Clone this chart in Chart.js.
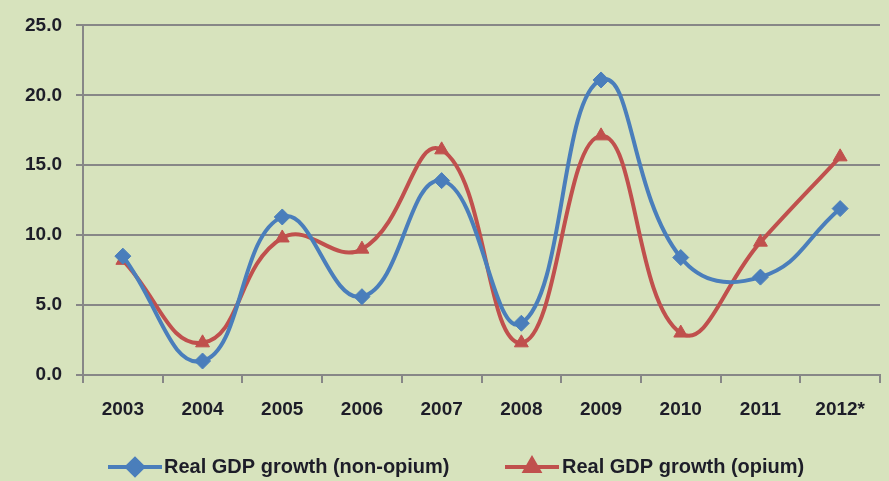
<!DOCTYPE html>
<html>
<head>
<meta charset="utf-8">
<script src="https://cdn.jsdelivr.net/npm/chart.js@4/dist/chart.umd.min.js"></script>
<style>
  html, body { margin: 0; padding: 0; background: #d7e3bd; }
  canvas { display: block; }
</style>
</head>
<body>
<canvas id="gdp" width="889" height="481"></canvas>
<script>
const years = ['2003', '2004', '2005', '2006', '2007', '2008', '2009', '2010', '2011', '2012*'];
const nonOpium = [8.5, 1.0, 11.3, 5.6, 13.9, 3.7, 21.1, 8.4, 7.0, 11.9];
const opium = [8.2, 2.3, 9.8, 9.0, 16.1, 2.3, 17.1, 3.0, 9.5, 15.6];
const seriesNames = ['Real GDP growth (non-opium)', 'Real GDP growth (opium)'];

const BLUE = '#4a7ebb';
const RED = '#c0504d';
const GRID = '#878787';
const TEXT = '#1d1d28';
const FONT = "'Liberation Sans', Arial, sans-serif";

// legend drawn under the axis: line sample with the series marker, then the name
const bottomLegend = {
  id: 'bottomLegend',
  afterDraw(chart) {
    const ctx = chart.ctx;
    const items = [{ x: 108, textX: 164 }, { x: 505, textX: 562 }];
    const y = 467;
    chart.data.datasets.forEach((ds, i) => {
      const it = items[i];
      ctx.save();
      ctx.strokeStyle = ds.borderColor;
      ctx.lineWidth = 4;
      ctx.beginPath();
      ctx.moveTo(it.x, y);
      ctx.lineTo(it.x + 54, y);
      ctx.stroke();
      ctx.fillStyle = ds.pointBackgroundColor;
      ctx.strokeStyle = ds.pointBorderColor;
      Chart.helpers.drawPoint(ctx, {
        pointStyle: ds.pointStyle, radius: ds.pointRadius, rotation: 0, borderWidth: 1
      }, it.x + 27, y);
      ctx.fillStyle = TEXT;
      ctx.font = 'bold 20px ' + FONT;
      ctx.textBaseline = 'middle';
      ctx.fillText(ds.label, it.textX, y);
      ctx.restore();
    });
  }
};

new Chart(document.getElementById('gdp'), {
  type: 'line',
  data: {
    labels: years,
    datasets: [{
      label: seriesNames[0],
      data: nonOpium,
      borderColor: BLUE,
      backgroundColor: BLUE,
      pointBackgroundColor: BLUE,
      pointBorderColor: BLUE,
      borderWidth: 4,
      tension: 0.45,
      pointStyle: 'rectRot',
      pointRadius: 8,
      pointBorderWidth: 1
    }, {
      label: seriesNames[1],
      data: opium,
      borderColor: RED,
      backgroundColor: RED,
      pointBackgroundColor: RED,
      pointBorderColor: RED,
      borderWidth: 4,
      tension: 0.45,
      pointStyle: 'triangle',
      pointRadius: 8,
      pointBorderWidth: 1
    }]
  },
  options: {
    responsive: false,
    animation: false,
    layout: { padding: { top: 20, right: 8, left: 0, bottom: 0 } },
    plugins: {
      legend: { display: false },
      tooltip: { enabled: false }
    },
    scales: {
      x: {
        offset: true,
        grid: {
          offset: true,
          drawOnChartArea: false,
          color: GRID,
          lineWidth: 2,
          tickLength: 8
        },
        border: { color: GRID, width: 2 },
        ticks: { color: TEXT, font: { family: FONT, size: 19, weight: 'bold' }, padding: 15, maxRotation: 0 },
        afterFit(scale) { scale.height = 106; }
      },
      y: {
        min: 0,
        max: 25,
        grid: { color: GRID, lineWidth: 2, tickLength: 7 },
        border: { color: GRID, width: 2 },
        ticks: {
          stepSize: 5,
          color: TEXT,
          font: { family: FONT, size: 19, weight: 'bold' },
          padding: 14,
          callback: v => v.toFixed(1)
        },
        afterFit(scale) { scale.width = 83; }
      }
    }
  },
  plugins: [bottomLegend]
});
</script>
</body>
</html>
